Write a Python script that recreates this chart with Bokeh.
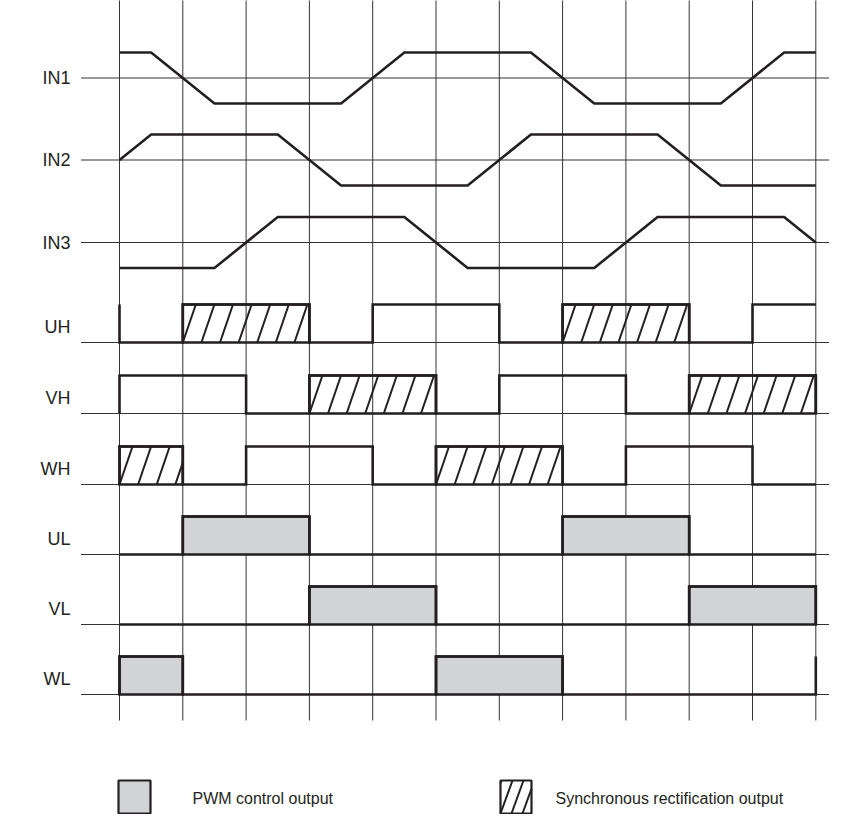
import numpy as np
from bokeh.plotting import figure
from bokeh.models import Range1d
from bokeh.embed import file_html
from bokeh.resources import INLINE
from bokeh.core.properties import value

# ---------------- data ----------------
labels = ["IN1", "IN2", "IN3", "UH", "VH", "WH", "UL", "VL", "WL"]
grid_times = list(range(12))          # vertical timing lines (interval index)

# analog-like inputs: breakpoints (time) and level (-1 low, 0 mid, 1 high)
in1_t = [0, 0.5, 1.5, 3.5, 4.5, 6.5, 7.5, 9.5, 10.5, 11]
in1_v = [1, 1, -1, -1, 1, 1, -1, -1, 1, 1]
in2_t = [0, 0.5, 2.5, 3.5, 5.5, 6.5, 8.5, 9.5, 11]
in2_v = [0, 1, 1, -1, -1, 1, 1, -1, -1]
in3_t = [0, 1.5, 2.5, 4.5, 5.5, 7.5, 8.5, 10.5, 11]
in3_v = [-1, -1, 1, 1, -1, -1, 1, 1, 0]

# digital outputs: high intervals (on, off) and their kind
uh_on = [-2, 1, 4, 7, 10]
uh_off = [0, 3, 6, 9, 12]
uh_kind = ["plain", "sync", "plain", "sync", "plain"]
vh_on = [0, 3, 6, 9]
vh_off = [2, 5, 8, 11]
vh_kind = ["plain", "sync", "plain", "sync"]
wh_on = [0, 2, 5, 8]
wh_off = [1, 4, 7, 10]
wh_kind = ["sync", "plain", "sync", "plain"]
ul_on = [1, 7]
ul_off = [3, 9]
ul_kind = ["pwm", "pwm"]
vl_on = [3, 9]
vl_off = [5, 11]
vl_kind = ["pwm", "pwm"]
wl_on = [0, 5, 11]
wl_off = [1, 7, 13]
wl_kind = ["pwm", "pwm", "pwm"]

legend_labels = ["PWM control output", "Synchronous rectification output"]

# ---------------- layout ----------------
W, H = 829, 814
X0PX, DXPX = 119.0, 63.3           # screen x of t=0, pixels per interval
T0, T1 = 0, 11


def sx(px):
    return (px - X0PX) / DXPX


analog_base = [77.5, 159.5, 242.0]
digital_base = [342.0, 413.0, 484.0, 554.0, 624.0, 694.0]
ANA_AMP = 25.5
DIG_H = 38.0

INK = "#231f20"
GRID = "#333333"
GRAY = "#d1d3d4"
LW = 2.6

p = figure(width=W, height=H, output_backend="svg", toolbar_location=None,
           x_range=Range1d(sx(0), sx(W)), y_range=Range1d(H, 0),
           x_axis_location=None, y_axis_location=None, min_border=0)
p.xgrid.visible = False
p.ygrid.visible = False
p.outline_line_color = None
p.background_fill_color = "white"
p.border_fill_color = "white"

# grid
bases = analog_base + digital_base
p.segment(x0=[sx(80.5)] * len(bases), x1=[sx(W + 20)] * len(bases),
          y0=bases, y1=bases, line_color=GRID, line_width=1)
p.segment(x0=grid_times, x1=grid_times, y0=[-5] * len(grid_times),
          y1=[720] * len(grid_times), line_color=GRID, line_width=1)

# labels (digital ones sit inside the pulse height)
label_y = analog_base + [b - 15.5 for b in digital_base]
p.text(x=[sx(70)] * len(labels), y=label_y, text=labels,
       text_align="right", text_baseline="middle",
       text_font=value("Liberation Sans"), text_font_size="18px", text_color=INK)

# analog inputs
for t, v, b in zip([in1_t, in2_t, in3_t], [in1_v, in2_v, in3_v], analog_base):
    p.line(t, [b - ANA_AMP * vv for vv in v], line_color=INK, line_width=LW,
           line_join="miter")


def hatch_segments(x0, x1, ybot, ytop, spacing, slant):
    xs0, xs1, ys0, ys1 = [], [], [], []
    kmin = -int(np.ceil(slant / spacing)) - 1
    kmax = int(np.ceil((x1 - x0) / spacing)) + 1
    for k in range(kmin, kmax + 1):
        xb = x0 + k * spacing
        umin = max(0.0, (x0 - xb) / slant)
        umax = min(1.0, (x1 - xb) / slant)
        if umax - umin > 1e-6:
            xs0.append(xb + slant * umin)
            xs1.append(xb + slant * umax)
            ys0.append(ybot + (ytop - ybot) * umin)
            ys1.append(ybot + (ytop - ybot) * umax)
    return xs0, xs1, ys0, ys1


def step_path(ons, offs, t0=T0, t1=T1):
    def level(t):
        return 1 if any(a < t < b for a, b in zip(ons, offs)) else 0
    bounds = sorted(set([t0, t1] + [x for x in ons + offs if t0 <= x <= t1]))
    prev = level(t0 - 1e-6)
    xs, ys = [t0], [prev]
    for a, b in zip(bounds[:-1], bounds[1:]):
        lv = level((a + b) / 2)
        if lv != prev:
            xs.append(a)
            ys.append(lv)
        xs.append(b)
        ys.append(lv)
        prev = lv
    after = level(t1 + 1e-6)
    if after != prev:
        xs.append(t1)
        ys.append(after)
    return xs, ys


signals = [(uh_on, uh_off, uh_kind), (vh_on, vh_off, vh_kind), (wh_on, wh_off, wh_kind),
           (ul_on, ul_off, ul_kind), (vl_on, vl_off, vl_kind), (wl_on, wl_off, wl_kind)]

for (ons, offs, kinds), b in zip(signals, digital_base):
    top = b - DIG_H
    for a, e, k in zip(ons, offs, kinds):
        l, r = max(a, T0), min(e, T1)
        if r <= l or k == "plain":
            continue
        if k == "pwm":
            p.quad(left=[l], right=[r], top=[top], bottom=[b], fill_color=GRAY,
                   line_color=INK, line_width=LW, line_join="miter")
        else:
            hx0, hx1, hy0, hy1 = hatch_segments(l, r, b, top, 18.6 / DXPX, 13.0 / DXPX)
            p.segment(x0=hx0, x1=hx1, y0=hy0, y1=hy1, line_color=INK, line_width=2.0)
            p.quad(left=[l], right=[r], top=[top], bottom=[b], fill_color=None,
                   line_color=INK, line_width=LW, line_join="miter")
    xs, ys = step_path(ons, offs)
    p.line(xs, [b - DIG_H * y for y in ys], line_color=INK, line_width=LW,
           line_join="miter")

# legend
LEG_TOP, LEG_BOT = 780, 813
p.quad(left=[sx(118)], right=[sx(150)], top=[LEG_TOP], bottom=[LEG_BOT],
       fill_color=GRAY, line_color=INK, line_width=2.2)
hx0, hx1, hy0, hy1 = hatch_segments(sx(500), sx(531), LEG_BOT, LEG_TOP, 11.0 / DXPX, 12.0 / DXPX)
p.segment(x0=hx0, x1=hx1, y0=hy0, y1=hy1, line_color=INK, line_width=2.0)
p.quad(left=[sx(500)], right=[sx(531)], top=[LEG_TOP], bottom=[LEG_BOT],
       fill_color=None, line_color=INK, line_width=2.2)
p.text(x=[sx(192), sx(555)], y=[(LEG_TOP + LEG_BOT) / 2 + 1] * 2, text=legend_labels,
       text_align="left", text_baseline="middle",
       text_font=value("Liberation Sans"), text_font_size="16px", text_color=INK)

open("out.html", "w").write(file_html(p, INLINE))
